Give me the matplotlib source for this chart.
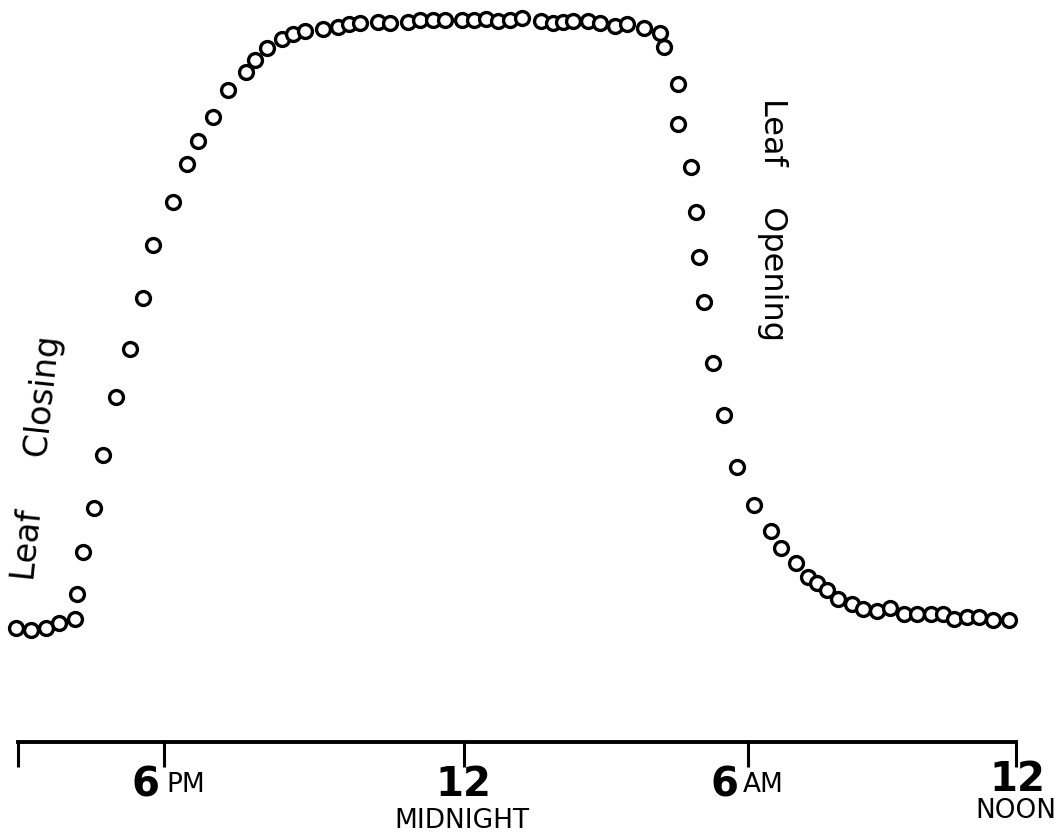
import matplotlib
matplotlib.use("Agg")
import matplotlib.pyplot as plt

# time in hours from midnight (negative = evening before)
hours = [-9.04, -8.73, -8.42, -8.16, -7.83, -7.79, -7.66, -7.44, -7.25, -6.99,
         -6.70, -6.43, -6.23, -5.81, -5.53, -5.30, -4.99, -4.68, -4.31, -4.13,
         -3.88, -3.58, -3.35, -3.10, -2.73, -2.42, -2.20, -1.97, -1.60, -1.36,
         -0.99, -0.74, -0.47, -0.23, 0.12, 0.37, 0.62, 0.86, 1.11, 1.36,
         1.75, 1.99, 2.20, 2.40, 2.71, 2.96, 3.27, 3.51, 3.86, 4.19,
         4.27, 4.56, 4.56, 4.83, 4.93, 4.99, 5.10, 5.28, 5.51, 5.77,
         6.12, 6.47, 6.68, 6.99, 7.23, 7.42, 7.62, 7.85, 8.14, 8.36,
         8.65, 8.92, 9.20, 9.47, 9.76, 10.01, 10.23, 10.50, 10.75, 11.03,
         11.36]

# leaf position (relative units, 0 = open, 100 = closed)
position = [0.3, 0.0, 0.3, 1.1, 1.8, 5.9, 12.7, 19.9, 28.6, 38.1,
            45.9, 54.2, 62.9, 69.9, 76.1, 79.9, 83.8, 88.2, 91.2, 93.1,
            95.1, 96.6, 97.4, 97.9, 98.2, 98.5, 98.9, 99.2, 99.3, 99.2,
            99.3, 99.7, 99.7, 99.7, 99.7, 99.7, 99.8, 99.5, 99.7, 100.0,
            99.5, 99.2, 99.3, 99.5, 99.5, 99.2, 98.7, 99.0, 98.4, 97.5,
            95.3, 89.2, 82.7, 75.7, 68.3, 60.9, 53.6, 43.6, 35.1, 26.6,
            20.4, 16.2, 13.4, 11.0, 8.7, 7.7, 6.5, 5.1, 4.2, 3.4,
            3.1, 3.6, 2.6, 2.6, 2.6, 2.6, 1.8, 2.1, 2.1, 1.6,
            1.6]

# hand-drawn time axis: tick positions as they sit on the original drawing
tick_pos = [-9.0, -6.0, 0.16, 6.0, 11.51]
tick_big = ["", "6", "12", "6", "12"]
tick_small = ["", "PM", "MIDNIGHT", "AM", "NOON"]

fig = plt.figure(figsize=(10.57, 8.36), dpi=100)
ax = fig.add_axes([0, 0.1124, 1, 0.8876])

ax.plot(hours, position, linestyle="none", marker="o", ms=10,
        mfc="white", mec="black", mew=2.4)

ax.set_xlim(-9.37, 12.35)
ax.set_ylim(-18.3, 102.9)

for s in ["left", "top", "right"]:
    ax.spines[s].set_visible(False)
ax.spines["bottom"].set_bounds(tick_pos[0], tick_pos[-1])
ax.spines["bottom"].set_linewidth(2.8)
ax.set_yticks([])
ax.set_xticks(tick_pos)
ax.set_xticklabels([])
ax.tick_params(axis="x", direction="out", length=18, width=2.2)

big = dict(fontsize=29, fontweight="bold", family=["Liberation Sans Narrow", "DejaVu Sans"])
small = dict(fontsize=19, family=["DejaVu Sans"])

def put(text, x, dx, dy, ha, style):
    ax.annotate(text, xy=(x, 0), xycoords=("data", "axes fraction"),
                xytext=(dx, dy), textcoords="offset points",
                ha=ha, va="center", **style)

# 6 PM
put(tick_big[1], tick_pos[1], -3, -31, "right", big)
put(tick_small[1], tick_pos[1], 2, -31, "left", small)
# 12 MIDNIGHT
put(tick_big[2], tick_pos[2], 0, -31, "center", big)
put(tick_small[2], tick_pos[2], -1, -57, "center", small)
# 6 AM
put(tick_big[3], tick_pos[3], -7, -31, "right", big)
put(tick_small[3], tick_pos[3], -4, -31, "left", small)
# 12 NOON
put(tick_big[4], tick_pos[4], 1, -27, "center", big)
put(tick_small[4], tick_pos[4], 0, -50, "center", small)

ax.text(-8.6, 28.0, "Leaf     Closing", rotation=84, rotation_mode="anchor",
        ha="center", va="center", fontsize=24)
ax.text(6.5, 67, "Leaf    Opening", rotation=-90,
        ha="center", va="center", fontsize=23)

fig.savefig("out.png", dpi=100, facecolor="white")
